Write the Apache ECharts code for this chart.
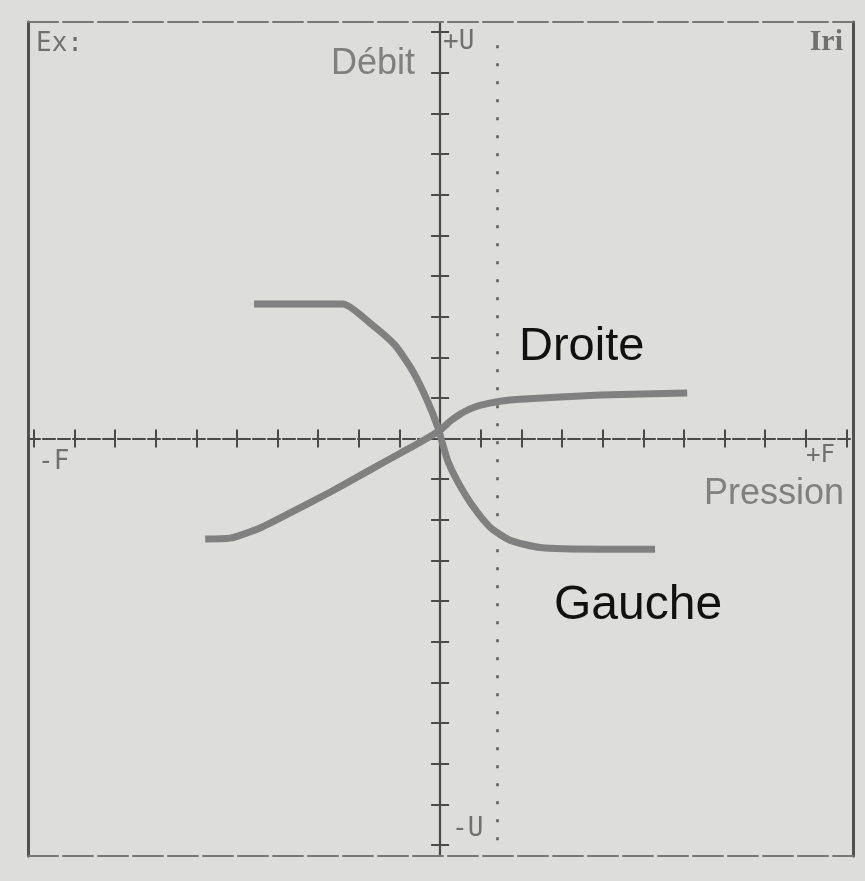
<!DOCTYPE html>
<html>
<head>
<meta charset="utf-8">
<title>Débit / Pression</title>
<script src="https://cdn.jsdelivr.net/npm/echarts@6/dist/echarts.min.js"></script>
<style>
  html, body { margin: 0; padding: 0; background: #dddddb; }
  #chart { width: 865px; height: 881px; }
</style>
</head>
<body>
<div id="chart"></div>
<script>
// Graduations of both screen axes (one division = one unit)
const tickValues = [-10, -9, -8, -7, -6, -5, -4, -3, -2, -1, 0, 1, 2, 3, 4, 5, 6, 7, 8, 9, 10];

// Curve "Gauche": [pression, débit]
const gaucheX = [-4.58, -2.39, -1.72, -1.11, -0.66, -0.30, -0.05, 0.07, 0.20, 0.44, 0.79, 1.23, 1.72, 2.46, 3.94, 5.29];
const gaucheY = [3.31, 3.31, 2.84, 2.30, 1.64, 0.90, 0.26, -0.16, -0.58, -1.07, -1.64, -2.18, -2.50, -2.68, -2.72, -2.72];

// Curve "Droite": [pression, débit]
const droiteX = [-5.78, -5.17, -4.43, -3.69, -2.71, -1.72, -0.98, -0.49, 0.00, 0.25, 0.49, 0.74, 0.98, 1.48, 1.97, 3.94, 6.08];
const droiteY = [-2.47, -2.45, -2.20, -1.83, -1.32, -0.77, -0.36, -0.09, 0.21, 0.43, 0.60, 0.73, 0.82, 0.92, 0.97, 1.07, 1.12];

// Dotted cursor line (pression value, vertical extent)
const cursorX = 1.4;
const cursorY = [9.68, -10.25];

const xRange = [-10.14, 10.16];
const yRange = [-10.27, 10.25];

const zip = (xs, ys) => xs.map((x, i) => [x, ys[i]]);

const ink = '#4a4a4a';
const curveColor = '#808080';

const chart = echarts.init(document.getElementById('chart'), null, { renderer: 'canvas' });

// Axis through the origin; two copies give ticks on both sides (crosses)
function zeroAxis(position, inside, lineVisible, lineType, tickLen) {
  return {
    type: 'value',
    position: position,
    axisLine: {
      show: true, onZero: true, onZeroAxisIndex: 0,
      lineStyle: { color: ink, width: 2.2, type: lineType, opacity: lineVisible ? 1 : 0 }
    },
    axisTick: {
      show: true, inside: inside, length: tickLen,
      customValues: tickValues,
      lineStyle: { color: ink, width: 2 }
    },
    axisLabel: { show: false },
    splitLine: { show: false }
  };
}

// Screen border
function frameAxis(position, lineType, width, color) {
  return {
    type: 'value',
    position: position,
    axisLine: { show: true, onZero: false, lineStyle: { color: color, width: width, type: lineType } },
    axisTick: { show: false },
    axisLabel: { show: false },
    splitLine: { show: false }
  };
}

const xAxes = [
  zeroAxis('bottom', false, true, [12, 3], 9),
  zeroAxis('bottom', true, false, 'solid', 9),
  frameAxis('bottom', [30, 5], 2, '#777'),
  frameAxis('top', [30, 5], 2, '#777')
].map(a => Object.assign(a, { min: xRange[0], max: xRange[1] }));

const yAxes = [
  zeroAxis('left', false, true, 'solid', 9),
  zeroAxis('left', true, false, 'solid', 9),
  frameAxis('left', 'solid', 3, '#505050'),
  frameAxis('right', 'solid', 3, '#505050')
].map(a => Object.assign(a, { min: yRange[0], max: yRange[1] }));

const glyph = (text, x, y, size) => ({
  type: 'text', x: x, y: y, silent: true,
  style: {
    text: text, fill: '#555', opacity: 0.8,
    font: size + 'px "DejaVu Sans Mono", monospace',
    verticalAlign: 'middle'
  }
});

const curveSeries = (name, xs, ys) => ({
  name: name, type: 'line', data: zip(xs, ys),
  showSymbol: false, smooth: 0.2,
  lineStyle: { color: curveColor, width: 7, cap: 'butt', join: 'round' },
  z: 5
});

const droite = curveSeries('Droite', droiteX, droiteY);
droite.markLine = {
  silent: true, symbol: 'none', label: { show: false },
  lineStyle: { color: '#5a5a5a', width: 2.5, type: [3, 15] },
  data: [[{ coord: [cursorX, cursorY[0]] }, { coord: [cursorX, cursorY[1]] }]]
};

chart.setOption({
  backgroundColor: '#dddddb',
  animation: false,
  grid: { left: 28, right: 12, top: 22, bottom: 25, containLabel: false },
  xAxis: xAxes,
  yAxis: yAxes,
  series: [curveSeries('Gauche', gaucheX, gaucheY), droite],
  graphic: [
    { type: 'text', x: 415, y: 64, silent: true,
      style: { text: 'Débit', fill: '#808080', font: '36px "Liberation Sans", Arial, sans-serif', align: 'right', verticalAlign: 'middle' } },
    { type: 'text', x: 844, y: 494, silent: true,
      style: { text: 'Pression', fill: '#808080', font: '36px "Liberation Sans", Arial, sans-serif', align: 'right', verticalAlign: 'middle' } },
    { type: 'text', x: 519, y: 347, silent: true,
      style: { text: 'Droite', fill: '#111', font: '47px "Liberation Sans", Arial, sans-serif', align: 'left', verticalAlign: 'middle' } },
    { type: 'text', x: 554, y: 606, silent: true,
      style: { text: 'Gauche', fill: '#111', font: '48px "Liberation Sans", Arial, sans-serif', align: 'left', verticalAlign: 'middle' } },
    glyph('Ex:', 36, 44, 26),
    glyph('+U', 443, 42, 26),
    glyph('-U', 452, 829, 26),
    glyph('-F', 38, 462, 26),
    glyph('+F', 806, 456, 24),
    { type: 'text', x: 843, y: 42, silent: true,
      style: { text: 'Iri', fill: '#555', opacity: 0.8, font: 'bold 30px "Liberation Serif", serif', align: 'right', verticalAlign: 'middle' } }
  ]
});
</script>
</body>
</html>
